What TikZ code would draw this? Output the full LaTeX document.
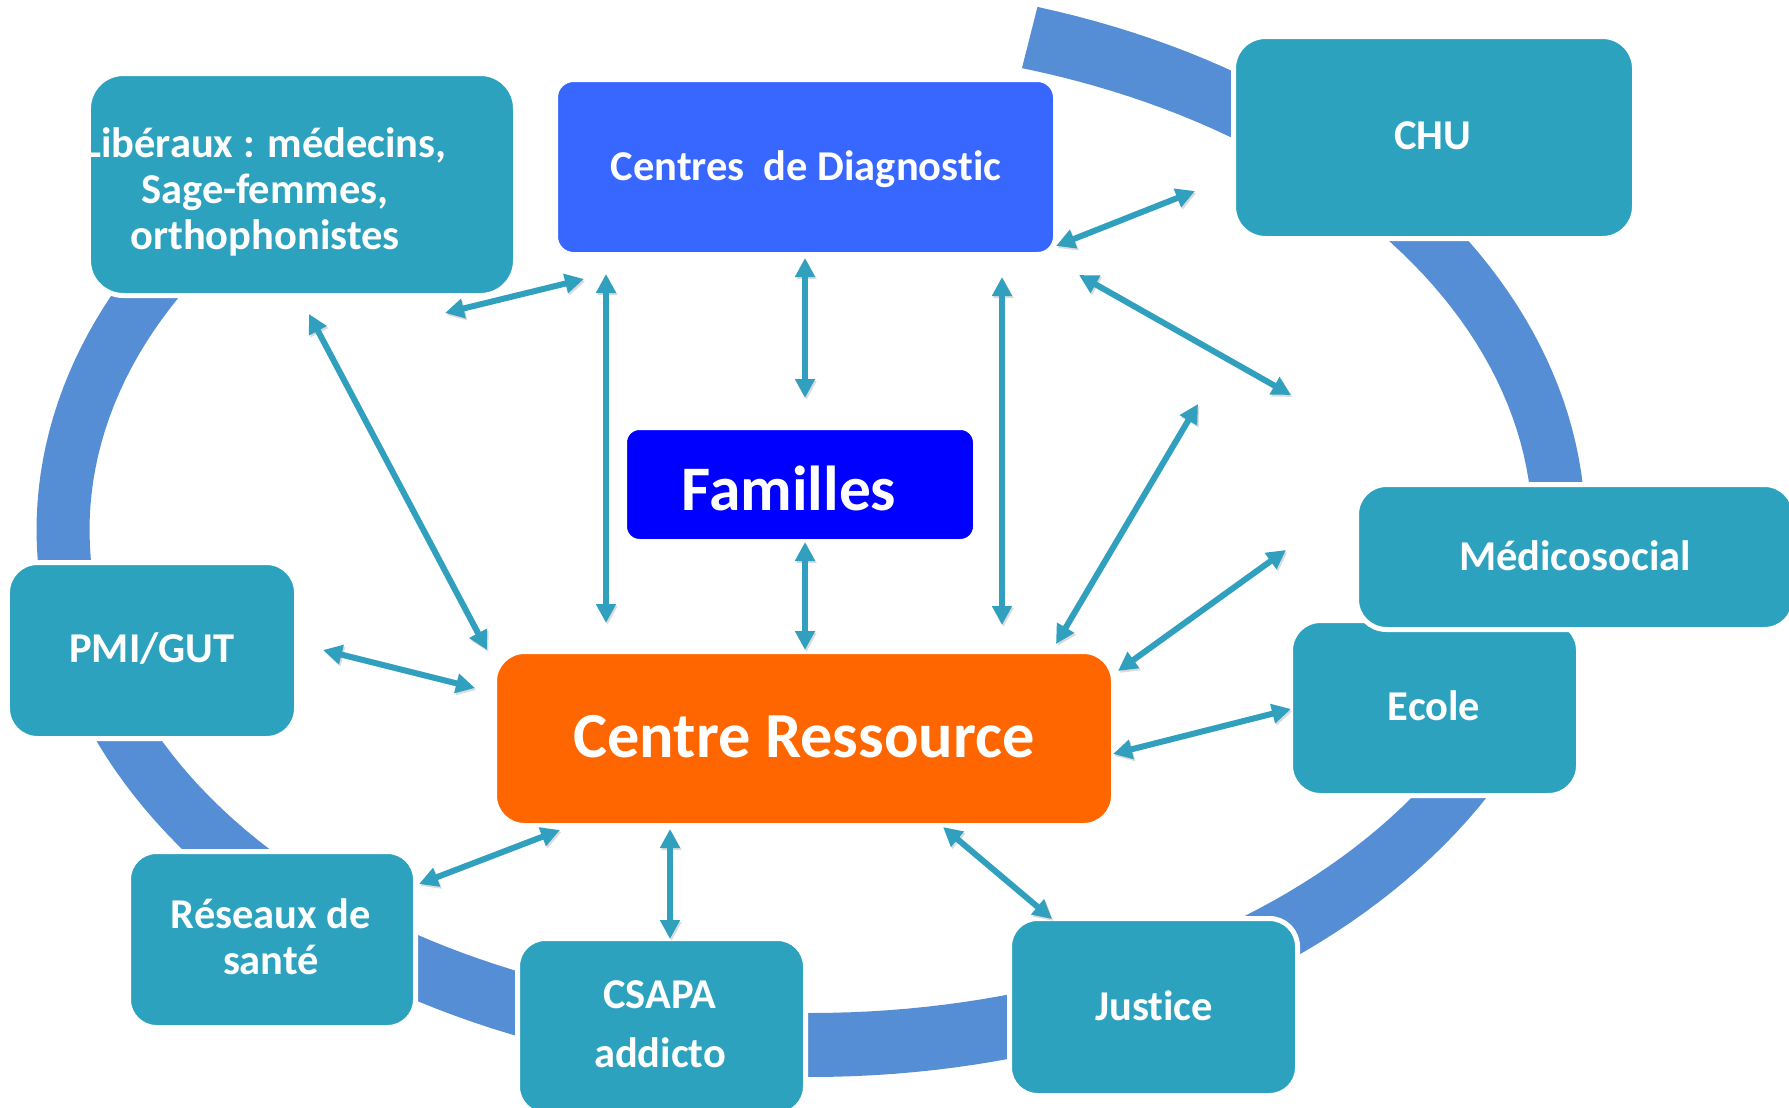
\documentclass[tikz,border=0pt]{standalone}
\usepackage{fontspec}
\setmainfont{Carlito}[Ligatures=NoCommon]
\usetikzlibrary{arrows.meta}
\definecolor{tealbox}{HTML}{2DA2BE}
\definecolor{arrowc}{HTML}{30A0BE}
\definecolor{ringblue}{HTML}{558ED5}
\definecolor{cdblue}{HTML}{3867FF}
\definecolor{famblue}{HTML}{0000FF}
\definecolor{crorange}{HTML}{FF6600}
\begin{document}
\begin{tikzpicture}[x=1bp,y=-1bp,
  box/.style={draw=white, line width=5bp, rounded corners=#1, inner sep=0pt, fill=tealbox},
  box/.default=30bp,
  txt/.style={text=white, font=\bfseries\fontsize{#1}{1.1\dimexpr#1\relax}\selectfont, inner sep=0pt, anchor=base, align=center},
  txt/.default=42.5bp,
  arr/.style={draw=arrowc, line width=6bp, {Triangle[length=19bp,width=19bp]}-{Triangle[length=19bp,width=19bp]},
    preaction={draw=black!14, transform canvas={shift={(1.5bp,-2bp)}}}}]
\useasboundingbox (0,0) rectangle (1789,1107);
% ring
\fill[ringblue] plot[domain=-73:230, samples=200, variable=\t] ({811+774.5*cos(\t)},{530+547*sin(\t)})
  -- plot[domain=230:-73, samples=200, variable=\t] ({811+721.5*cos(\t)},{530+483*sin(\t)}) -- cycle;
% boxes
\node[box=35bp, minimum width=427bp, minimum height=222bp] (lib) at (302,184.5) {};
\node[box=18bp, fill=cdblue, minimum width=500bp, minimum height=175bp] (cd) at (805.5,167) {};
\node[box=32bp, minimum width=401bp, minimum height=202bp] (chu) at (1434,137.5) {};
\node[box=15bp, fill=famblue, minimum width=351bp, minimum height=114bp] (fam) at (800,484.5) {};
\node[box, minimum width=289bp, minimum height=176bp] (pmi) at (152,650.5) {};
\node[box, fill=crorange, minimum width=619bp, minimum height=174bp] (cr) at (804,738.5) {};
\node[box=28bp, minimum width=287bp, minimum height=176bp] (res) at (272,939.5) {};
\node[box=28bp, minimum width=288bp, minimum height=176bp] (csa) at (661.5,1026.5) {};
\node[box=28bp, minimum width=288bp, minimum height=177bp] (jus) at (1153.5,1007) {};
\node[box, minimum width=288bp, minimum height=175bp] (eco) at (1434.5,708) {};
\node[box, minimum width=438bp, minimum height=145bp] (med) at (1575.5,557) {};
% texts (multi-line nodes: base = last line)
\node[txt, font=\bfseries\fontsize{42.5bp}{46bp}\selectfont] (libt) at (265,249) {Libéraux : médecins,\\Sage-femmes,\\orthophonistes};
\node[txt] (cdt) at (806,180) {Centres\ \ de Diagnostic};
\node[txt] (chut) at (1433,149) {CHU};
\node[txt=63.5bp] (famt) at (789,510) {Familles};
\node[txt] (medt) at (1575,570) {Médicosocial};
\node[txt] (ecot) at (1434,720) {Ecole};
\node[txt] (pmit) at (152,662) {PMI/GUT};
\node[txt=64.3bp] (crt) at (804,757) {Centre Ressource};
\node[txt, font=\bfseries\fontsize{42.5bp}{46bp}\selectfont] (rest) at (271,974) {Réseaux de\\santé};
\node[txt, font=\bfseries\fontsize{42.5bp}{59bp}\selectfont] (csat) at (660,1067) {CSAPA\\addicto};
\node[txt] (just) at (1154,1020) {Justice};
% arrow ends
\coordinate (p1a) at (445,313);  \coordinate (p1b) at (584,279);
\coordinate (p2a) at (606,274);  \coordinate (p2b) at (606,623);
\coordinate (p3a) at (805,258);  \coordinate (p3b) at (805,398);
\coordinate (p4a) at (805,542);  \coordinate (p4b) at (805,650);
\coordinate (p5a) at (1002,277); \coordinate (p5b) at (1002,625);
\coordinate (p6a) at (1056,246); \coordinate (p6b) at (1195,191);
\coordinate (p7a) at (1079,275); \coordinate (p7b) at (1291,395);
\coordinate (p8a) at (1198,404); \coordinate (p8b) at (1056,644);
\coordinate (p9a) at (1286,550); \coordinate (p9b) at (1118,671);
\coordinate (p10a) at (1113,754); \coordinate (p10b) at (1291,709);
\coordinate (p11a) at (943,827); \coordinate (p11b) at (1052,919);
\coordinate (p12a) at (670,829); \coordinate (p12b) at (670,939);
\coordinate (p13a) at (560,830); \coordinate (p13b) at (419,884);
\coordinate (p14a) at (323,650); \coordinate (p14b) at (475,688);
\coordinate (p15a) at (309,314); \coordinate (p15b) at (487,650);
\foreach \i in {1,...,15} {\draw[arr] (p\i a) -- (p\i b);}
\end{tikzpicture}
\end{document}
